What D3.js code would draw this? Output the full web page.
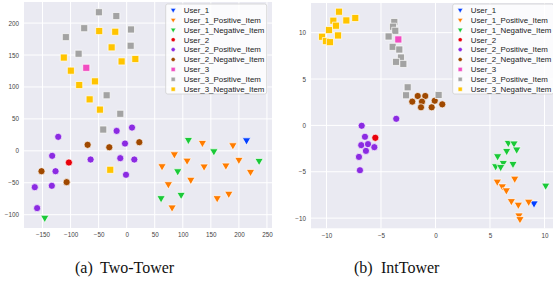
<!DOCTYPE html>
<html>
<head>
<meta charset="utf-8">
<script src="https://cdn.jsdelivr.net/npm/d3@7"></script>
<style>
  body { margin: 0; background: #fff; }
  svg { display: block; }
  .tick text { font-family: "Liberation Sans", Arial, sans-serif; font-size: 6.3px; fill: #444; }
  .legend text { font-family: "Liberation Sans", Arial, sans-serif; font-size: 7.9px; fill: #222; }
  .caption { font-family: "Liberation Serif", "DejaVu Serif", serif; font-size: 16px; fill: #111; }
</style>
</head>
<body>
<div id="chart"></div>
<script>
// legend order, colours and marker shapes
var seriesNames = ["User_1", "User_1_Positive_Item", "User_1_Negative_Item",
                   "User_2", "User_2_Positive_Item", "User_2_Negative_Item",
                   "User_3", "User_3_Positive_Item", "User_3_Negative_Item"];
var seriesColors = ["#023eff", "#ff7c00", "#1ac938",
                    "#e8000b", "#8b2be2", "#9f4800",
                    "#f14cc1", "#a3a3a3", "#ffc400"];
var seriesShapes = ["tri", "tri", "tri", "circle", "circle", "circle", "square", "square", "square"];

// (a) Two-Tower points [x, y]
var tt_user1 = [[213.6, 16.6]];
var tt_user1Pos = [[135, 12.5], [189.3, 8.8], [85, -5.3], [107.7, -15.2], [200, -14], [63, -24],
                   [138, -24.5], [176.8, -23], [220.7, -32.8], [114.3, -45.3], [74.3, -52.2],
                   [80.9, -88.6], [161.3, -74], [182, -67.2]];
var tt_user1Neg = [[110, 17.2], [155.4, -0.6], [236, -15.6], [91, -31.9], [97, -68.8], [61.3, -74], [-146, -104.7]];
var tt_user2 = [[-103, -18.3]];
var tt_user2Pos = [[9.5, 36.4], [-17.9, 31.2], [-122, 21.9], [-3, 11.4], [-132.8, -7.8], [-64.3, -13.6],
                   [-11.4, -11.5], [13.6, -13.6], [-126.8, -31.9], [-1.2, -37.5], [-133.4, -54.7],
                   [-163.8, -56.9], [-159.6, -89.7]];
var tt_user2Neg = [[-69.6, 9.4], [-31, 5.6], [22.5, 13.5], [-151.8, -31.9], [-107, -49]];
var tt_user3 = [[-72, 130]];
var tt_user3Pos = [[-49.5, 217], [-18.5, 211], [-75.7, 192], [7.7, 190], [-108.4, 178], [7.1, 164.5],
                   [-85.7, 152], [-35.7, 87], [-11.4, 58], [-41.8, 33.3]];
var tt_user3Neg = [[-49, 187.5], [-20.4, 186.4], [-26.8, 162], [-112, 146], [-9, 140], [15.4, 143.7],
                   [-99.5, 125.5], [-56.6, 108.8], [-84.6, 103], [-66, 80.6], [-47.7, 64.5], [-29.3, -29.7]];

// (b) IntTower points [x, y]
var it_user1 = [[9.04, -8.41]];
var it_user1Pos = [[5.67, -6.06], [7.27, -5.74], [6.13, -6.57], [6.5, -7], [6.96, -8.16], [7.6, -8.55],
                   [8.55, -8.23], [7.66, -9.71], [7.75, -10.1]];
var it_user1Neg = [[6.68, -1.88], [7.2, -1.95], [6.53, -2.75], [7.45, -2.6], [5.7, -3.32], [6.22, -4.05],
                   [5.52, -4.4], [5.98, -4.48], [7.11, -4.15], [10.11, -6.49]];
var it_user2 = [[-5.52, -1.34]];
var it_user2Pos = [[-3.6, 0.71], [-6.77, -0.04], [-6.47, -1.23], [-6.81, -2.13], [-6.19, -2.02],
                   [-5.61, -2.35], [-6.38, -2.75], [-7.02, -3.4], [-6.93, -4.84]];
var it_user2Neg = [[-1.63, 3.17], [-0.94, 3.17], [-2.13, 2.56], [-1.24, 2.56], [-0.07, 2.66],
                   [-1.33, 1.95], [-0.35, 1.95], [0.62, 2.27]];
var it_user3 = [[-3.41, 9.27]];
var it_user3Pos = [[-3.78, 11.15], [-3.9, 10.64], [-3.69, 10.2], [-4.3, 9.59], [-3.93, 8.47], [-3.32, 8.18],
                   [-3.17, 7.32], [-3.62, 6.85], [-2.95, 6.63], [-2.55, 4.11], [-2.7, 3.25], [0.29, 3.28]];
var it_user3Neg = [[-8.85, 12.26], [-9.37, 11.29], [-8.18, 11.32], [-7.36, 11.58], [-9.13, 10.75],
                   [-9.77, 10.28], [-10.41, 9.56], [-8.94, 9.7], [-10.05, 9.09], [-9.68, 8.98]];

var ttSeries = [tt_user1, tt_user1Pos, tt_user1Neg, tt_user2, tt_user2Pos, tt_user2Neg, tt_user3, tt_user3Pos, tt_user3Neg];
var itSeries = [it_user1, it_user1Pos, it_user1Neg, it_user2, it_user2Pos, it_user2Neg, it_user3, it_user3Pos, it_user3Neg];

var ttXTicks = [-150, -100, -50, 0, 50, 100, 150, 200, 250];
var ttYTicks = [-100, -50, 0, 50, 100, 150, 200];
var itXTicks = [-10, -5, 0, 5, 10];
var itYTicks = [-10, -5, 0, 5, 10];

var svg = d3.select("#chart").append("svg")
    .attr("width", 553)
    .attr("height", 285);

function symbolPath(shape, big) {
    if (shape == "circle") return d3.symbol(d3.symbolCircle, big ? 40 : 13)();
    if (shape == "square") return d3.symbol(d3.symbolSquare, big ? 50 : 16)();
    return d3.symbol(d3.symbolTriangle, big ? 30 : 11)();
}

function drawPanel(cfg) {
    var x = d3.scaleLinear().domain(cfg.xDomain).range(cfg.xRange);
    var y = d3.scaleLinear().domain(cfg.yDomain).range(cfg.yRange);

    var g = svg.append("g");
    g.append("rect")
        .attr("x", cfg.xRange[0]).attr("y", cfg.yRange[1])
        .attr("width", cfg.xRange[1] - cfg.xRange[0])
        .attr("height", cfg.yRange[0] - cfg.yRange[1])
        .attr("fill", "#eaeaf2");

    // grid
    g.selectAll(".vgrid").data(cfg.xTicks).enter().append("line")
        .attr("x1", d => x(d)).attr("x2", d => x(d))
        .attr("y1", cfg.yRange[1]).attr("y2", cfg.yRange[0])
        .attr("stroke", "#fff").attr("stroke-width", 1);
    g.selectAll(".hgrid").data(cfg.yTicks).enter().append("line")
        .attr("y1", d => y(d)).attr("y2", d => y(d))
        .attr("x1", cfg.xRange[0]).attr("x2", cfg.xRange[1])
        .attr("stroke", "#fff").attr("stroke-width", 1);

    // axes (labels only, like seaborn darkgrid)
    var xAxis = d3.axisBottom(x).tickValues(cfg.xTicks).tickSize(0).tickPadding(5)
        .tickFormat(d => d3.format("d")(d).replace("-", "\u2212"));
    var yAxis = d3.axisLeft(y).tickValues(cfg.yTicks).tickSize(0).tickPadding(5)
        .tickFormat(d => d3.format("d")(d).replace("-", "\u2212"));
    g.append("g").attr("transform", "translate(0," + cfg.yRange[0] + ")").call(xAxis)
        .call(a => a.select(".domain").remove());
    g.append("g").attr("transform", "translate(" + cfg.xRange[0] + ",0)").call(yAxis)
        .call(a => a.select(".domain").remove());

    // points
    cfg.series.forEach(function(pts, i) {
        g.append("g").selectAll("path").data(pts).enter().append("path")
            .attr("d", symbolPath(seriesShapes[i], true))
            .attr("transform", function(d) {
                var t = "translate(" + x(d[0]) + "," + y(d[1]) + ")";
                return seriesShapes[i] == "tri" ? t + " rotate(180)" : t;
            })
            .attr("fill", seriesColors[i])
            .attr("stroke", "#fff")
            .attr("stroke-width", 0.7);
    });

    // legend
    var lg = g.append("g").attr("class", "legend");
    lg.append("rect")
        .attr("x", cfg.legend[0]).attr("y", 4)
        .attr("width", 101).attr("height", 90)
        .attr("rx", 2)
        .attr("fill", "rgba(255,255,255,0.8)")
        .attr("stroke", "#d0d0d0").attr("stroke-width", 0.8);
    seriesNames.forEach(function(name, i) {
        var yy = 10 + i * 9.9;
        lg.append("path")
            .attr("d", symbolPath(seriesShapes[i], false))
            .attr("transform", "translate(" + (cfg.legend[0] + 7.5) + "," + yy + ")" +
                  (seriesShapes[i] == "tri" ? " rotate(180)" : ""))
            .attr("fill", seriesColors[i])
            .attr("stroke", "#fff").attr("stroke-width", 0.4);
        lg.append("text")
            .attr("x", cfg.legend[0] + 18).attr("y", yy + 2.8)
            .text(name);
    });

    svg.append("text").attr("class", "caption")
        .attr("x", cfg.caption[0]).attr("y", 272.5).text(cfg.caption[1]);
    svg.append("text").attr("class", "caption")
        .attr("x", cfg.caption[2]).attr("y", 272.5).text(cfg.caption[3]);
}

drawPanel({
    xDomain: [-183, 259], xRange: [24, 272],
    yDomain: [-120.8, 233], yRange: [228, 2],
    xTicks: ttXTicks, yTicks: ttYTicks,
    series: ttSeries,
    legend: [165.7],
    caption: [75, "(a)", 100, "Two-Tower"]
});

drawPanel({
    xDomain: [-11.42, 10.78], xRange: [311, 553],
    yDomain: [-11.1, 13.2], yRange: [228.3, 3],
    xTicks: itXTicks, yTicks: itYTicks,
    series: itSeries,
    legend: [452.7],
    caption: [354, "(b)", 381, "IntTower"]
});
</script>
</body>
</html>
